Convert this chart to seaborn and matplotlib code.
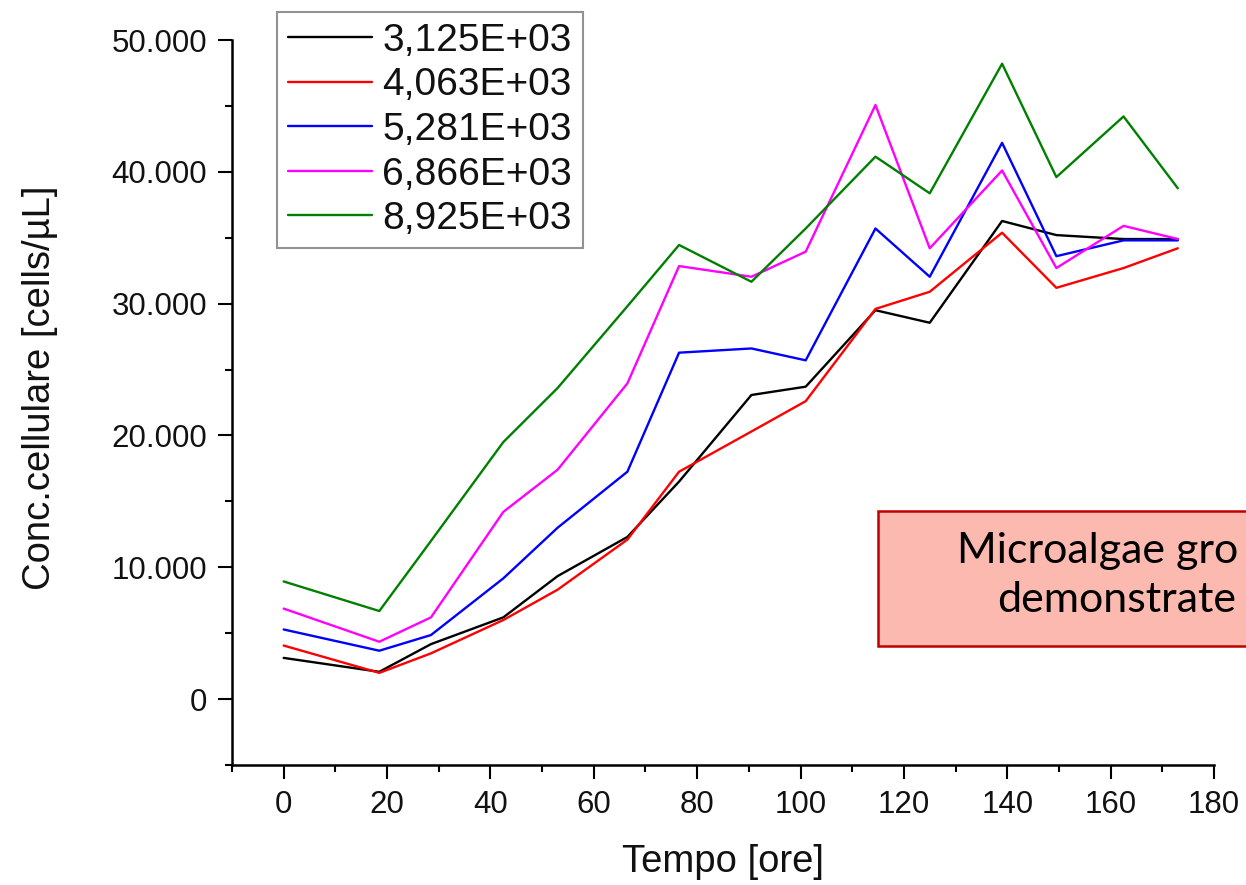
import numpy as np
import pandas as pd
import matplotlib
matplotlib.use("Agg")
import matplotlib.pyplot as plt
from matplotlib.ticker import MultipleLocator, FuncFormatter
from matplotlib.patches import Rectangle
import seaborn as sns

# ---- data ----
hours = [0, 18.5, 28.5, 42.5, 53, 66.5, 76.5, 90.5, 101, 114.5, 125, 139, 149.5, 162.5, 173]
labels = ["3,125E+03", "4,063E+03", "5,281E+03", "6,866E+03", "8,925E+03"]
s_3125 = [3125, 2070, 4170, 6200, 9330, 12300, 16500, 23070, 23700, 29500, 28550, 36270, 35200, 34900, 34900]
s_4063 = [4063, 1990, 3470, 6000, 8300, 12100, 17250, 20300, 22600, 29600, 30900, 35380, 31200, 32700, 34200]
s_5281 = [5281, 3670, 4860, 9160, 13000, 17250, 26280, 26600, 25700, 35700, 32040, 42200, 33600, 34800, 34800]
s_6866 = [6866, 4350, 6200, 14200, 17400, 23950, 32850, 32040, 33940, 45070, 34200, 40100, 32700, 35900, 34900]
s_8925 = [8925, 6680, 12000, 19500, 23600, 29800, 34450, 31660, 35700, 41150, 38370, 48200, 39600, 44200, 38750]
series = [s_3125, s_4063, s_5281, s_6866, s_8925]
colors = ["#000000", "#FF0000", "#0000FF", "#FF00FF", "#008000"]
xlabel = "Tempo [ore]"
ylabel = "Conc.cellulare [cells/\u00b5L]"
note_lines = ["Microalgae gro", "demonstrate"]

df = pd.concat([pd.DataFrame({"t": hours, "v": s, "serie": lab}) for s, lab in zip(series, labels)],
               ignore_index=True)

sns.set_style("ticks")
plt.rcParams['font.family'] = ['Liberation Sans', 'DejaVu Sans']

W, H = 1246, 885
fig = plt.figure(figsize=(W / 100, H / 100), dpi=100)
ax = fig.add_axes([232 / W, 1 - 765 / H, (1214 - 232) / W, (765 - 40) / H])

sns.lineplot(data=df, x="t", y="v", hue="serie", palette=colors, hue_order=labels,
             linewidth=1.7, ax=ax, legend=False, estimator=None, sort=False)

ax.set_xlim(-10, 180)
ax.set_ylim(-5000, 50000)
ax.xaxis.set_major_locator(MultipleLocator(20))
ax.xaxis.set_minor_locator(MultipleLocator(10))
ax.yaxis.set_major_locator(MultipleLocator(10000))
ax.yaxis.set_minor_locator(MultipleLocator(5000))
ax.yaxis.set_major_formatter(FuncFormatter(lambda v, p: f"{int(round(v)):,}".replace(",", ".")))
ax.tick_params(axis="both", which="major", length=10, width=1.5, labelsize=22.5, pad=8, direction="out",
               color="black", labelcolor="#111111")
ax.tick_params(axis="both", which="minor", length=5, width=1.5, direction="out", color="black")
for side in ["top", "right"]:
    ax.spines[side].set_visible(False)
for side in ["left", "bottom"]:
    ax.spines[side].set_linewidth(1.8)
    ax.spines[side].set_color("black")

ax.set_xlabel(xlabel, fontsize=27.5, color="#111111")
ax.set_ylabel(ylabel, fontsize=27.5, color="#111111")
ax.xaxis.set_label_coords(0.5, (765 - 862) / 725)
ax.yaxis.set_label_coords((40 - 232) / 982, (765 - 388) / 725)
ax.xaxis.label.set_va("center")
ax.yaxis.label.set_va("center")

handles = [plt.Line2D([], [], color=c, linewidth=1.7) for c in colors]
leg = fig.legend(handles, labels, loc="upper left",
                 bbox_to_anchor=(277 / W, 1 - 12 / H), bbox_transform=fig.transFigure,
                 fontsize=28, frameon=True, fancybox=False, handlelength=2.15, handletextpad=0.28,
                 labelspacing=0.22, borderpad=0.28, borderaxespad=0)
leg.get_frame().set_edgecolor("#777777")
leg.get_frame().set_linewidth(1.5)
for t in leg.get_texts():
    t.set_color("#111111")

# annotation box (cut by the right edge of the picture)
rect = Rectangle((878 / W, 1 - 646 / H), (W + 20 - 878) / W, (646 - 511) / H,
                 transform=fig.transFigure, facecolor="#FCB9AF", edgecolor="#C00000",
                 linewidth=1.8, zorder=5)
fig.patches.append(rect)
fig.text(957 / W, 1 - 551 / H, note_lines[0], fontsize=31, family=["Lato", "DejaVu Sans"],
         ha="left", va="center", color="black", zorder=6)
fig.text(997 / W, 1 - 600 / H, note_lines[1], fontsize=31, family=["Lato", "DejaVu Sans"],
         ha="left", va="center", color="black", zorder=6)

fig.savefig("out.png", dpi=100)
